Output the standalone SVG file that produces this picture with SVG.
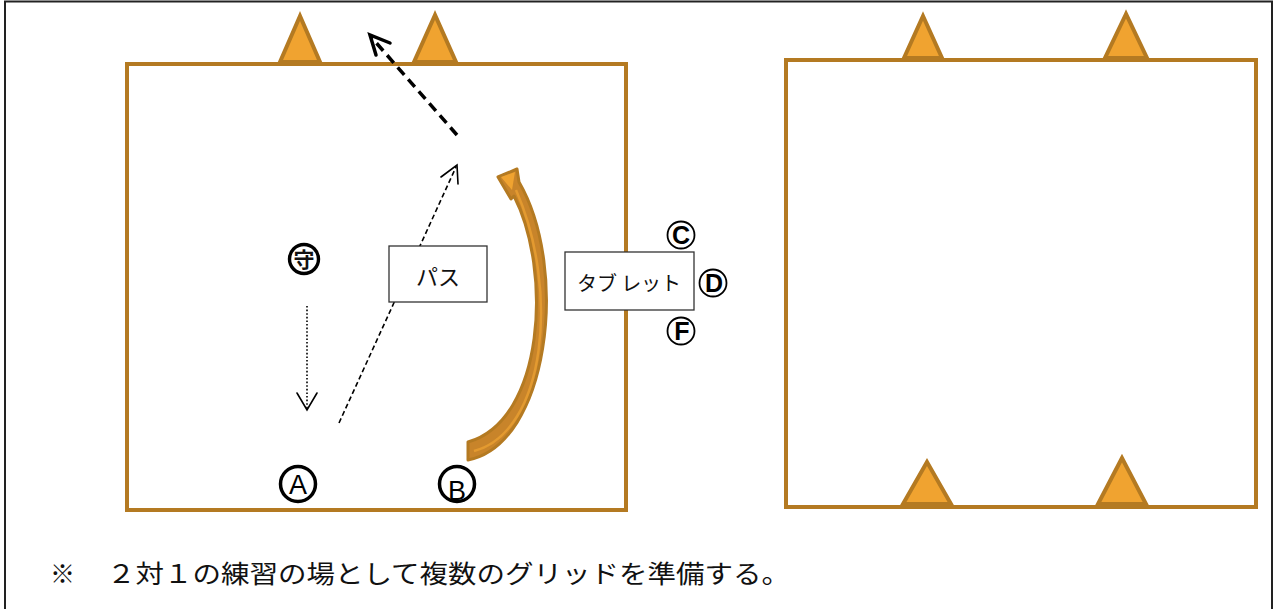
<svg xmlns="http://www.w3.org/2000/svg" width="1274" height="609" viewBox="0 0 1274 609">
<style>
.grid{fill:none;stroke:#B47A22;stroke-width:4}
.cone{fill:#F0A330;stroke:#B47A22;stroke-width:4;stroke-linejoin:miter}
.box{fill:#fff;stroke:#333;stroke-width:1.3}
.jp{font-family:"Noto Sans CJK JP","Noto Sans",sans-serif;fill:#111}
.pl{fill:#fff;stroke:#000}
.lt{font-family:"Liberation Sans",Arial,sans-serif;fill:#000;text-anchor:middle}
.ah{fill:none;stroke:#000;stroke-linecap:round;stroke-linejoin:miter}
</style>
<rect x="0" y="0" width="1274" height="609" fill="#fff"/>
<path d="M5,620 L5,1.5 L1272,1.5 L1272,620" fill="none" stroke="#222" stroke-width="2"/>
<g id="grid-left">
<rect class="grid" x="127" y="64" width="499" height="446"/>
<polygon class="cone" points="300,16 280,62 320,62"/>
<polygon class="cone" points="435,15 414,62 456,62"/>
</g>
<g id="grid-right">
<rect class="grid" x="786" y="60" width="470" height="447"/>
<polygon class="cone" points="923,16 904,58 942,58"/>
<polygon class="cone" points="1126,14 1105,58 1147,58"/>
<polygon class="cone" points="927,462 903,504 951,504"/>
<polygon class="cone" points="1122,458 1098,504 1146,504"/>
</g>
<g id="connectors">
<line x1="457" y1="135" x2="372" y2="38" stroke="#000" stroke-width="3.5" stroke-dasharray="10,6"/>
<polyline class="ah" stroke-width="3.5" points="376,55 370,35 390,43"/>
<line x1="339" y1="423" x2="456" y2="167" stroke="#000" stroke-width="1.6" stroke-dasharray="5,3"/>
<polyline class="ah" stroke-width="1.6" points="441,177 457,165 458,184"/>
<line x1="307" y1="306" x2="307" y2="409" stroke="#000" stroke-width="1.6" stroke-dasharray="1.6,2"/>
<polyline class="ah" stroke-width="1.6" points="297,393 307,410 317,393"/>
<path d="M468,460 C548,445 570,270 519,182 L517,169 L498,177 L511,199 L514,196 C552,270 545,420 468,442 Z" fill="#C8842A" stroke="#B47A22" stroke-width="3" stroke-linejoin="round"/>
<path d="M474,451 C546,432 560,290 516,190" fill="none" stroke="#E39A30" stroke-width="2.5"/>
<path d="M501,177 L515,172 L512,190 Z" fill="#F0A330"/>
</g>
<g id="node-mamori">
<circle class="pl" cx="304" cy="259" r="14.5" stroke-width="3.4"/>
<text class="jp" x="304" y="267" font-size="21" text-anchor="middle" font-weight="bold">守</text>
</g>
<g id="node-A">
<circle class="pl" cx="298" cy="484" r="17.5" stroke-width="3.5"/>
<text class="lt" x="298" y="494" font-size="27">A</text>
</g>
<g id="node-B">
<circle class="pl" cx="457" cy="484" r="17.5" stroke-width="3.5"/>
<text class="lt" x="457" y="500" font-size="27">B</text>
</g>
<g id="node-pass">
<rect class="box" x="389" y="246" width="98" height="56"/>
<text class="jp" x="438" y="285" font-size="22" text-anchor="middle">パス</text>
</g>
<g id="node-tablet">
<rect class="box" x="565" y="252" width="129" height="58"/>
<text class="jp" x="629" y="291" font-size="20" text-anchor="middle" textLength="104" lengthAdjust="spacing">タブ レット</text>
</g>
<g id="node-C">
<circle class="pl" cx="681" cy="235" r="13.5" stroke-width="1.8"/>
<text class="lt" x="681" y="244" font-size="25" font-weight="bold">C</text>
</g>
<g id="node-D">
<circle class="pl" cx="713" cy="283" r="13.5" stroke-width="1.8"/>
<text class="lt" x="714" y="292" font-size="25" font-weight="bold">D</text>
</g>
<g id="node-F">
<circle class="pl" cx="681" cy="331" r="13.5" stroke-width="1.8"/>
<text class="lt" x="682" y="340" font-size="25" font-weight="bold">F</text>
</g>
<g id="note">
<text class="jp" x="50" y="583" font-size="25">※</text>
<text class="jp" x="107" y="583" font-size="25" textLength="683" lengthAdjust="spacingAndGlyphs">２対１の練習の場として複数のグリッドを準備する。</text>
</g>
</svg>
